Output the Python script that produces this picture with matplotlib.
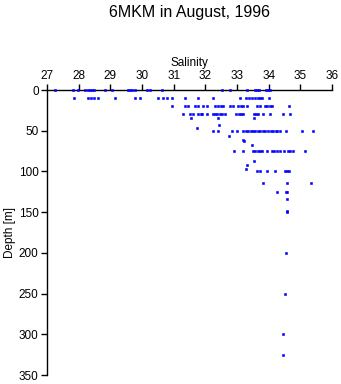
import numpy as np
import matplotlib
matplotlib.use('Agg')
import matplotlib.pyplot as plt

plt.rcParams['font.family'] = ['Liberation Sans', 'DejaVu Sans']

# salinity readings at each sampled depth [m]
sal_0 = [27.25, 27.82, 27.98, 28.2, 28.28, 28.35, 28.42, 28.5, 28.83, 29.05,
         29.56, 29.62, 29.68, 29.78, 30.16, 30.25, 30.63, 32.53, 32.78, 33.32,
         33.57, 33.64, 33.7, 33.92, 33.98, 34.04]
sal_10 = [27.85, 28.3, 28.4, 28.5, 28.6, 29.15, 29.78, 29.94, 30.5, 30.65,
          30.8, 30.95, 31.36, 31.77, 32.24, 33.09, 33.3, 33.38, 33.47, 33.57,
          33.65, 33.72, 33.79, 34.0]
sal_20 = [30.95, 31.36, 31.45, 31.67, 31.77, 31.93, 32.05, 32.3, 32.4, 32.48,
          32.56, 32.78, 32.87, 33.03, 33.12, 33.19, 33.32, 33.63, 33.73, 33.88,
          33.96, 34.04, 34.1, 34.64]
sal_30 = [31.29, 31.52, 31.61, 31.77, 31.85, 31.9, 32.05, 32.24, 32.32, 32.37,
          32.46, 32.54, 32.62, 32.97, 33.05, 33.12, 33.19, 33.54, 33.6, 33.66,
          33.82, 34.04, 34.45, 34.67]
sal_50 = [32.24, 32.4, 32.84, 33.0, 33.19, 33.27, 33.35, 33.43, 33.5, 33.58,
          33.66, 33.74, 33.82, 33.9, 33.98, 34.06, 34.14, 34.22, 34.26, 34.36,
          34.55, 35.05, 35.4]
sal_75 = [32.9, 33.19, 33.5, 33.58, 33.66, 33.74, 33.79, 33.95, 34.1, 34.18,
          34.26, 34.36, 34.48, 34.6, 34.68, 34.77, 35.15]
sal_100 = [33.63, 33.73, 33.95, 34.2, 34.52, 34.58, 34.64]

# scattered single samples (salinity, depth)
extra_sal = [31.55, 32.4, 33.54, 32.43, 31.74, 32.75, 33.19, 33.22, 33.47,
             33.54, 33.32, 33.28, 33.82, 34.58, 35.34, 34.26, 34.55, 34.58,
             34.58, 34.58, 34.58, 34.55, 34.52, 34.45, 34.45]
extra_depth = [34, 34, 34, 43, 47, 57, 61, 63, 67,
               87, 92, 97, 114, 114, 114, 125, 125, 125,
               134, 148, 150, 200, 250, 300, 325]

levels = [(0, sal_0), (10, sal_10), (20, sal_20), (30, sal_30),
          (50, sal_50), (75, sal_75), (100, sal_100)]
salinity = np.concatenate([s for _, s in levels] + [extra_sal])
depth = np.concatenate([[d] * len(s) for d, s in levels] + [extra_depth])

fig = plt.figure(figsize=(3.41, 3.84), dpi=100)
ax = fig.add_axes([0.1378, 0.0234, 0.8358, 0.7422])

ax.plot(salinity, depth, 's', color='#0000ff', markersize=1.9,
        markeredgewidth=0.4, markeredgecolor='#0000ff', linestyle='none',
        clip_on=False, zorder=5)

ax.set_xlim(27, 36)
ax.set_ylim(350, 0)
ax.set_xticks(np.arange(27, 37, 1))
ax.set_yticks(np.arange(0, 351, 50))
ax.xaxis.tick_top()
ax.xaxis.set_label_position('top')
ax.set_xlabel('Salinity', fontsize=8.5, labelpad=3)
ax.set_ylabel('Depth [m]', fontsize=8.5, labelpad=2)
ax.tick_params(axis='both', labelsize=8.5, length=4, width=1, direction='out', pad=2)

for side in ['right', 'bottom']:
    ax.spines[side].set_visible(False)
for side in ['top', 'left']:
    ax.spines[side].set_linewidth(1)

fig.text(0.557, 0.968, '6MKM in August, 1996', ha='center', va='center', fontsize=11.5)

fig.savefig('out.png', dpi=100)
